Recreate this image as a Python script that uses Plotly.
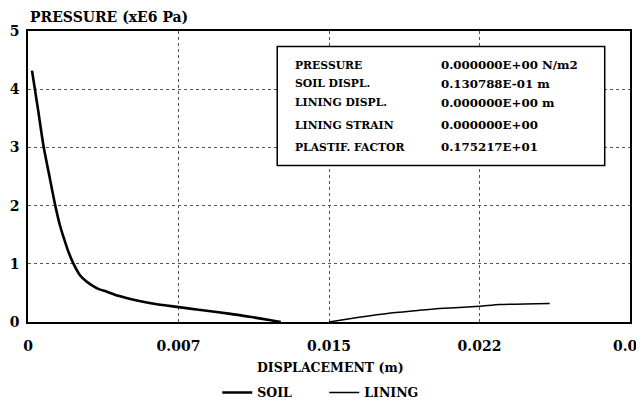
import plotly.graph_objects as go

# Data (displacement in m, pressure in xE6 Pa)
soil_x = [0.0002, 0.0005, 0.00078, 0.0011, 0.00136, 0.0016, 0.00177, 0.0020, 0.00227,
          0.0026, 0.0029, 0.00319, 0.0035, 0.00393, 0.0045, 0.00543, 0.0065, 0.00742,
          0.0085, 0.0101, 0.0113, 0.0121, 0.0126]
soil_y = [4.32, 3.65, 3.01, 2.45, 2.00, 1.65, 1.46, 1.22, 1.00,
          0.80, 0.70, 0.63, 0.57, 0.52, 0.45, 0.37, 0.30, 0.26,
          0.21, 0.14, 0.075, 0.03, 0.0]
lining_x = [0.0150, 0.0165, 0.0180, 0.0195, 0.0205, 0.0225, 0.0235, 0.0260]
lining_y = [0.0, 0.08, 0.15, 0.20, 0.23, 0.27, 0.30, 0.32]

x_tickvals = [0, 0.0075, 0.015, 0.0225, 0.03]
x_ticktext = ["0", "0.007", "0.015", "0.022", "0.03"]
y_tickvals = [0, 1, 2, 3, 4, 5]

info_labels = ["PRESSURE", "SOIL DISPL.", "LINING DISPL.", "LINING STRAIN", "PLASTIF. FACTOR"]
info_values = ["0.000000E+00 N/m2", "0.130788E-01 m", "0.000000E+00 m", "0.000000E+00", "0.175217E+01"]

FONT = "DejaVu Serif"

fig = go.Figure()
fig.add_trace(go.Scatter(x=soil_x, y=soil_y, mode="lines", name="SOIL",
                         line=dict(color="black", width=2.6, shape="spline", smoothing=0.6)))
fig.add_trace(go.Scatter(x=lining_x, y=lining_y, mode="lines", name="LINING",
                         line=dict(color="black", width=1.5, shape="spline", smoothing=0.6)))

axis_common = dict(showline=True, mirror=True, linecolor="black", linewidth=1.5,
                   showgrid=True, gridcolor="#555555", griddash="dot", gridwidth=1,
                   zeroline=False, ticks="", automargin=False,
                   tickfont=dict(family=FONT, size=14, color="black", weight="bold"))

fig.update_xaxes(range=[0, 0.03], tickvals=x_tickvals, ticktext=x_ticktext,
                 ticklabelstandoff=10, ticklabeloverflow="allow",
                 **axis_common)
fig.update_yaxes(range=[0, 5], tickvals=y_tickvals, ticklabelstandoff=4, **axis_common)

# Title
fig.add_annotation(text="PRESSURE (xE6 Pa)", xref="paper", yref="paper", x=0, y=1,
                   xanchor="left", yanchor="bottom", yshift=4, xshift=0, showarrow=False,
                   font=dict(family=FONT, size=14, color="black", weight="bold"))

# X axis title
fig.add_annotation(text="DISPLACEMENT (m)", xref="paper", yref="paper", x=0.503, y=0,
                   xanchor="center", yanchor="middle", yshift=-45, showarrow=False,
                   font=dict(family=FONT, size=12.5, color="black", weight="bold"))

# Info box
fig.add_shape(type="rect", xref="paper", yref="paper", x0=0.414, x1=0.958, y0=0.538, y1=0.947,
              line=dict(color="black", width=1.5), fillcolor="white", layer="above")
ys = [0.882, 0.819, 0.753, 0.676, 0.601]
for lab, val, yy in zip(info_labels, info_values, ys):
    fig.add_annotation(text=lab, xref="paper", yref="paper", x=0.4405, y=yy, xanchor="left",
                       yanchor="middle", showarrow=False,
                       font=dict(family=FONT, size=10.8, color="black", weight="bold"))
    fig.add_annotation(text=val, xref="paper", yref="paper", x=0.683, y=yy, xanchor="left",
                       yanchor="middle", showarrow=False,
                       font=dict(family=FONT, size=11.8, color="black", weight="bold"))

# The page body adds an 8px offset, so the figure is sized to fill the rest of the window
fig.update_layout(
    width=636, height=394,
    margin=dict(l=20, r=14, t=23, b=80),
    paper_bgcolor="white", plot_bgcolor="white",
    showlegend=True,
    legend=dict(orientation="h", xref="container", yref="container",
                x=0.329, xanchor="left", y=0.023, yanchor="middle",
                font=dict(family=FONT, size=12.5, color="black", weight="bold"),
                entrywidth=62, entrywidthmode="pixels",
                itemwidth=30, bgcolor="rgba(0,0,0,0)"),
)

fig.write_html("out.html")
